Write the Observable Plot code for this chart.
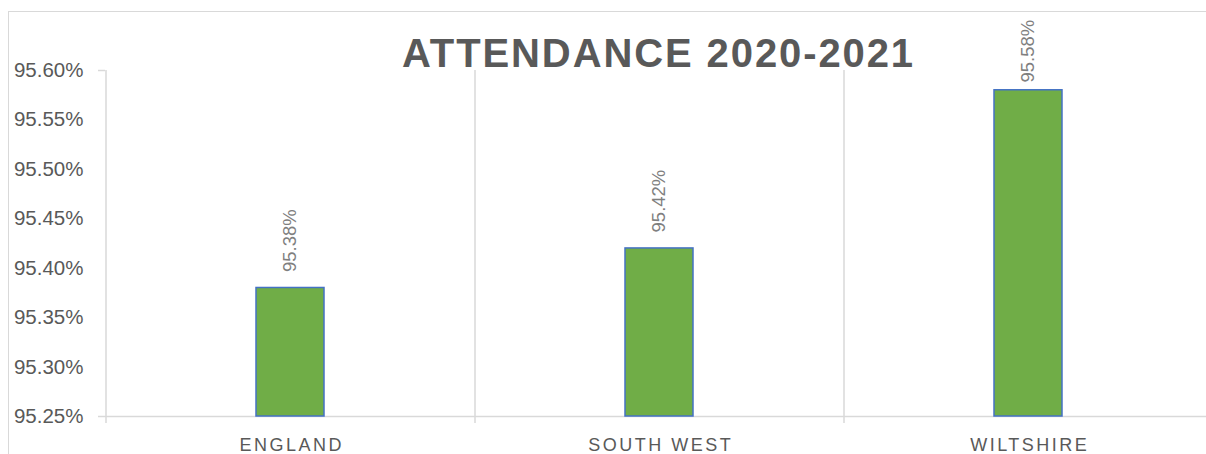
<!DOCTYPE html>
<html>
<head>
<meta charset="utf-8">
<script src="https://cdn.jsdelivr.net/npm/d3@7"></script>
<script src="https://cdn.jsdelivr.net/npm/@observablehq/plot@0.6"></script>
<style>
  html, body { margin: 0; padding: 0; background: #fff; overflow: hidden; }
  #wrap { position: relative; width: 1206px; height: 454px; overflow: hidden; font-family: "Liberation Sans", Arial, sans-serif; }
  #border { position: absolute; left: 8px; top: 11px; width: 1198px; height: 443px; border-top: 1px solid #d9d9d9; border-left: 1px solid #d9d9d9; box-sizing: border-box; }
  #title { position: absolute; left: 0; top: 33px; width: 1317px; text-align: center; font-size: 40px; line-height: 40px; font-weight: bold; color: #595959; letter-spacing: 1.9px; white-space: nowrap; }
  #chart { position: absolute; left: 0; top: 0; }
</style>
</head>
<body>
<div id="wrap">
  <div id="border"></div>
  <div id="chart"></div>
  <div id="title"></div>
</div>
<script>
const title = "ATTENDANCE 2020-2021";
const categories = ["ENGLAND", "SOUTH WEST", "WILTSHIRE"];
const values = [95.38, 95.42, 95.58];
const valueLabels = ["95.38%", "95.42%", "95.58%"];
const yTicks = [95.25, 95.30, 95.35, 95.40, 95.45, 95.50, 95.55, 95.60];
const yDomain = [95.25, 95.60];

const data = categories.map((c, i) => ({category: c, value: values[i], label: valueLabels[i]}));

const W = 1206, H = 454, mTop = 70, mBottom = 38, mLeft = 105, mRight = -6;
const ppu = (H - mTop - mBottom) / (yDomain[1] - yDomain[0]);
const step = (W - mLeft - mRight) / categories.length;
const labelY = v => Math.min(v + 16 / ppu, yDomain[1] - 12 / ppu);
const grid = "#d9d9d9";

document.getElementById("title").textContent = title;

const plot = Plot.plot({
  width: W,
  height: H,
  marginTop: mTop,
  marginBottom: mBottom,
  marginLeft: mLeft,
  marginRight: mRight,
  style: {background: "transparent", fontFamily: "Liberation Sans, Arial, sans-serif", overflow: "hidden"},
  x: {domain: categories, paddingInner: 0.816, paddingOuter: 0.408},
  y: {domain: yDomain},
  marks: [
    Plot.ruleX(categories, {x: d => d, dx: -step / 2, y1: yDomain[1], y2: yDomain[0], insetBottom: -7, stroke: grid, strokeWidth: 1.5}),
    Plot.ruleY([yDomain[0]], {stroke: grid, strokeWidth: 1.5}),
    Plot.axisY({ticks: [yDomain[1], yDomain[0]], tickSize: 7, tickFormat: () => "", stroke: grid, strokeWidth: 1.5, label: null}),
    Plot.axisY({ticks: yTicks, tickSize: 0, tickPadding: 22, tickFormat: d => d.toFixed(2) + "%", fill: "#595959", fontSize: 20.5, label: null}),
    Plot.axisX({tickSize: 0, tickPadding: 22, fill: "#595959", fontSize: 18, label: null}),
    Plot.barY(data, {x: "category", y1: yDomain[0], y2: "value", fill: "#70AD47", stroke: "#4472C4", strokeWidth: 1.5}),
    Plot.text(data, {x: "category", y: d => labelY(d.value), text: "label", rotate: -90, textAnchor: "start", fill: "#7f7f7f", fontSize: 18.5})
  ]
});

d3.select(plot).selectAll("g[aria-label='x-axis tick label'] text")
  .attr("letter-spacing", "2.5px").attr("dx", 1.25);

document.getElementById("chart").appendChild(plot);
</script>
</body>
</html>
